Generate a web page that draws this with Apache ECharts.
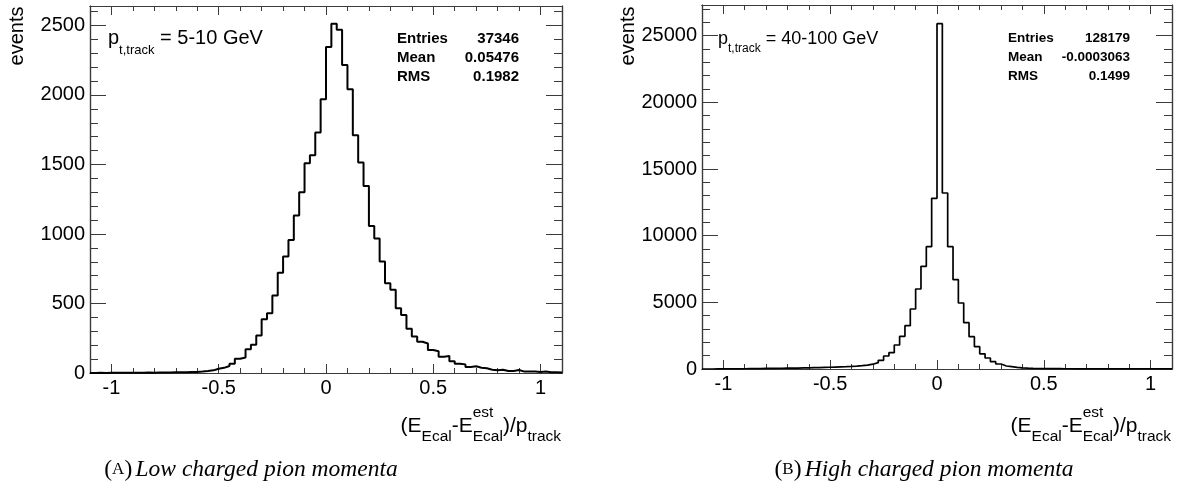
<!DOCTYPE html>
<html><head><meta charset="utf-8">
<script src="https://cdn.jsdelivr.net/npm/echarts@6/dist/echarts.min.js"></script>
<style>html,body{margin:0;padding:0;background:#fff}#c{width:1181px;height:496px}</style>
</head><body><div id="c"></div>
<script>
// ---- binning (ROOT histogram: 88 bins of 0.025 from -1.1 to 1.1) ----
const binLow = -1.1;
const binWidth = 0.025;

// ---- counts per bin ----
const lowMomentaCounts = [
  0,1,0,1,1,1,2,1,2,2,
  3,2,3,4,4,5,5,6,7,8,
  10,14,19,31,37,50,66,102,112,170,
  203,270,386,430,557,722,838,957,1133,1300,
  1509,1567,1730,1970,2345,2513,2469,2215,2042,1711,
  1514,1346,1058,967,802,646,598,466,418,318,
  262,225,212,165,157,117,122,84,67,62,
  43,48,38,34,24,19,24,14,14,22,
  10,10,10,7,10,6,5,4
];
const highMomentaCounts = [
  0,0,2,3,5,10,15,20,25,30,
  35,40,45,50,55,60,65,70,80,90,
  100,110,120,130,145,160,175,195,220,250,
  290,360,475,650,975,1225,1800,2450,3250,4500,
  6000,7700,9175,12800,25900,13200,9175,6700,4950,3475,
  2425,1675,1140,825,550,375,225,175,125,80,
  60,45,38,32,28,24,21,19,17,15,
  13,12,11,10,9,8,8,7,6,6,
  5,5,4,4,3,3,2,2
];

// ---- texts ----
const panelLabels = ['5-10 GeV', '40-100 GeV'];
const statNames = ['Entries', 'Mean', 'RMS'];
const lowStats = ['37346', '0.05476', '0.1982'];
const highStats = ['128179', '-0.0003063', '0.1499'];
const captionLetters = ['A', 'B'];
const captionTexts = ['Low charged pion momenta', 'High charged pion momenta'];
const yAxisTitle = 'events';

// ---- axis ranges ----
const xMin = -1.1, xMax = 1.1;
const lowYMax = 2640, highYMax = 27300;
const lowYMajor = 500, lowYMinor = 100;
const highYMajor = 5000, highYMinor = 1000;
const xMinorStep = 0.1;

const FONT = '"Liberation Sans", Arial, Helvetica, sans-serif';
const SERIF = '"Liberation Serif", "Times New Roman", serif';
const FRAME = '#3a3a3a';

function histPoints(counts) {
  const pts = counts.map((c, i) => [+(binLow + i * binWidth).toFixed(4), c]);
  pts.push([+(binLow + counts.length * binWidth).toFixed(4), counts[counts.length - 1]]);
  return pts;
}

const mctx = document.createElement('canvas').getContext('2d');
function tw(str, size, weight) {
  mctx.font = (weight || 'normal') + ' ' + size + 'px "Liberation Sans"';
  return mctx.measureText(str).width;
}

const grids = [
  {left: 90, top: 6, width: 472, height: 367},
  {left: 702, top: 5, width: 470, height: 364}
];

function xAxisDef(grid, pos, tickLen, minor, labels) {
  const a = {
    type: 'value', gridIndex: grid, position: pos, min: xMin, max: xMax,
    axisLine: {show: true, onZero: false, lineStyle: {color: FRAME, width: 1.2}},
    axisTick: {show: true, inside: true, length: tickLen, lineStyle: {color: FRAME, width: 1}},
    axisLabel: {show: labels, showMinLabel: false, showMaxLabel: false, color: '#000',
      fontSize: 20, fontFamily: FONT, margin: 5},
    splitLine: {show: false}
  };
  if (minor) a.interval = xMinorStep; else a.splitNumber = 5;
  return a;
}
function yAxisDef(grid, pos, tickLen, max, interval, labels) {
  return {
    type: 'value', gridIndex: grid, position: pos, min: 0, max: max, interval: interval,
    axisLine: {show: true, onZero: false, lineStyle: {color: FRAME, width: 1.2}},
    axisTick: {show: true, inside: true, length: tickLen, lineStyle: {color: FRAME, width: 1}},
    axisLabel: {show: labels, showMaxLabel: false, color: '#000', fontSize: 20, fontFamily: FONT,
      margin: 5, formatter: v => String(v)},
    splitLine: {show: false}
  };
}

const gridOpts = [];
const xAxes = [], yAxes = [];
const yInfo = [[lowYMax, lowYMajor, lowYMinor], [highYMax, highYMajor, highYMinor]];
grids.forEach((g, p) => {
  gridOpts.push(Object.assign({outerBoundsMode: 'none', containLabel: false}, g));
  gridOpts.push(Object.assign({outerBoundsMode: 'none', containLabel: false}, g));
  const gi = 2 * p;
  xAxes.push(xAxisDef(gi, 'bottom', 9, false, true));
  xAxes.push(xAxisDef(gi, 'top', 9, false, false));
  xAxes.push(xAxisDef(gi + 1, 'bottom', 5, true, false));
  xAxes.push(xAxisDef(gi + 1, 'top', 5, true, false));
  const [ymax, ymaj, ymin] = yInfo[p];
  yAxes.push(yAxisDef(gi, 'left', 16, ymax, ymaj, true));
  yAxes.push(yAxisDef(gi, 'right', 16, ymax, ymaj, false));
  yAxes.push(yAxisDef(gi + 1, 'left', 8, ymax, ymin, false));
  yAxes.push(yAxisDef(gi + 1, 'right', 8, ymax, ymin, false));
});

const series = [
  {type: 'line', step: 'end', xAxisIndex: 0, yAxisIndex: 0, data: histPoints(lowMomentaCounts),
   showSymbol: false, symbol: 'none', lineStyle: {color: '#000', width: 2}, animation: false, silent: true},
  {type: 'line', step: 'end', xAxisIndex: 4, yAxisIndex: 4, data: histPoints(highMomentaCounts),
   showSymbol: false, symbol: 'none', lineStyle: {color: '#000', width: 1.7}, animation: false, silent: true}
];

// ---- graphic texts ----
const graphics = [];
function txt(x, y, text, size, extra) {
  const st = Object.assign({text: text, fontSize: size, fontFamily: FONT, fill: '#000',
    align: 'left', textAlign: 'left', verticalAlign: 'middle', textVerticalAlign: 'middle'}, extra || {});
  return {type: 'text', x: x, y: y, silent: true, style: st};
}
function pieces(xStart, yMid, list, supDy) {
  let x = xStart;
  list.forEach(pc => {
    graphics.push(txt(x, yMid + (pc.dy || 0), pc.t, pc.s));
    let w = tw(pc.t, pc.s);
    if (pc.sup) {
      graphics.push(txt(x, yMid + supDy, pc.sup, pc.s));
      w = Math.max(w, tw(pc.sup, pc.s));
    }
    x += w;
  });
  return x - xStart;
}
function piecesWidth(list) {
  return list.reduce((a, pc) => a + Math.max(tw(pc.t, pc.s), pc.sup ? tw(pc.sup, pc.s) : 0), 0);
}

const panelCfg = [
  {evX: 17, evY: 36, ptX: 108, ptY: 38, ptM: 20, ptS: 13, ptSubDy: 12,
   stLX: 397, stRX: 519, stY: [39, 58, 77], stSize: 15, stats: lowStats,
   tRight: 561, tY: 426, tM: 21, tS: 15.5, capX: 251, capY: 470},
  {evX: 628, evY: 36, ptX: 718, ptY: 39, ptM: 18, ptS: 12, ptSubDy: 10,
   stLX: 1008, stRX: 1130, stY: [38, 57, 76], stSize: 13.5, stats: highStats,
   tRight: 1171, tY: 426, tM: 21, tS: 15.5, capX: 924, capY: 470}
];

panelCfg.forEach((c, p) => {
  graphics.push({type: 'text', x: c.evX, y: c.evY, rotation: Math.PI / 2, silent: true,
    style: {text: yAxisTitle, fontSize: 20, fontFamily: FONT, fill: '#000',
      align: 'center', textAlign: 'center', verticalAlign: 'middle', textVerticalAlign: 'middle'}});
  pieces(c.ptX, c.ptY, [
    {t: 'p', s: c.ptM},
    {t: 't,track', s: c.ptS, dy: c.ptSubDy},
    {t: ' = ' + panelLabels[p], s: c.ptM}
  ], 0);
  statNames.forEach((n, i) => {
    graphics.push(txt(c.stLX, c.stY[i], n, c.stSize, {fontWeight: 'bold'}));
    graphics.push(txt(c.stRX, c.stY[i], c.stats[i], c.stSize,
      {fontWeight: 'bold', align: 'right', textAlign: 'right'}));
  });
  const list = [
    {t: '(E', s: c.tM},
    {t: 'Ecal', s: c.tS, dy: 11},
    {t: '-E', s: c.tM},
    {t: 'Ecal', s: c.tS, dy: 11, sup: 'est'},
    {t: ')/p', s: c.tM},
    {t: 'track', s: c.tS, dy: 11}
  ];
  const w = piecesWidth(list);
  pieces(c.tRight - w, c.tY, list, -13);
  graphics.push({type: 'text', x: c.capX, y: c.capY, silent: true,
    style: {text: '{n|(}{sc|' + captionLetters[p] + '}{n|)} {i|' + captionTexts[p] + '}',
      align: 'center', textAlign: 'center', verticalAlign: 'middle', textVerticalAlign: 'middle',
      rich: {
        n: {fontFamily: SERIF, fontSize: 23.5, fill: '#000', color: '#000'},
        sc: {fontFamily: SERIF, fontSize: 17, fill: '#000', color: '#000'},
        i: {fontFamily: SERIF, fontSize: 23.5, fontStyle: 'italic', fill: '#000', color: '#000'}
      }}});
});

const chart = echarts.init(document.getElementById('c'), null, {renderer: 'canvas'});
chart.setOption({
  animation: false,
  backgroundColor: '#fff',
  grid: gridOpts,
  xAxis: xAxes,
  yAxis: yAxes,
  series: series,
  graphic: {elements: graphics}
});
</script></body></html>
